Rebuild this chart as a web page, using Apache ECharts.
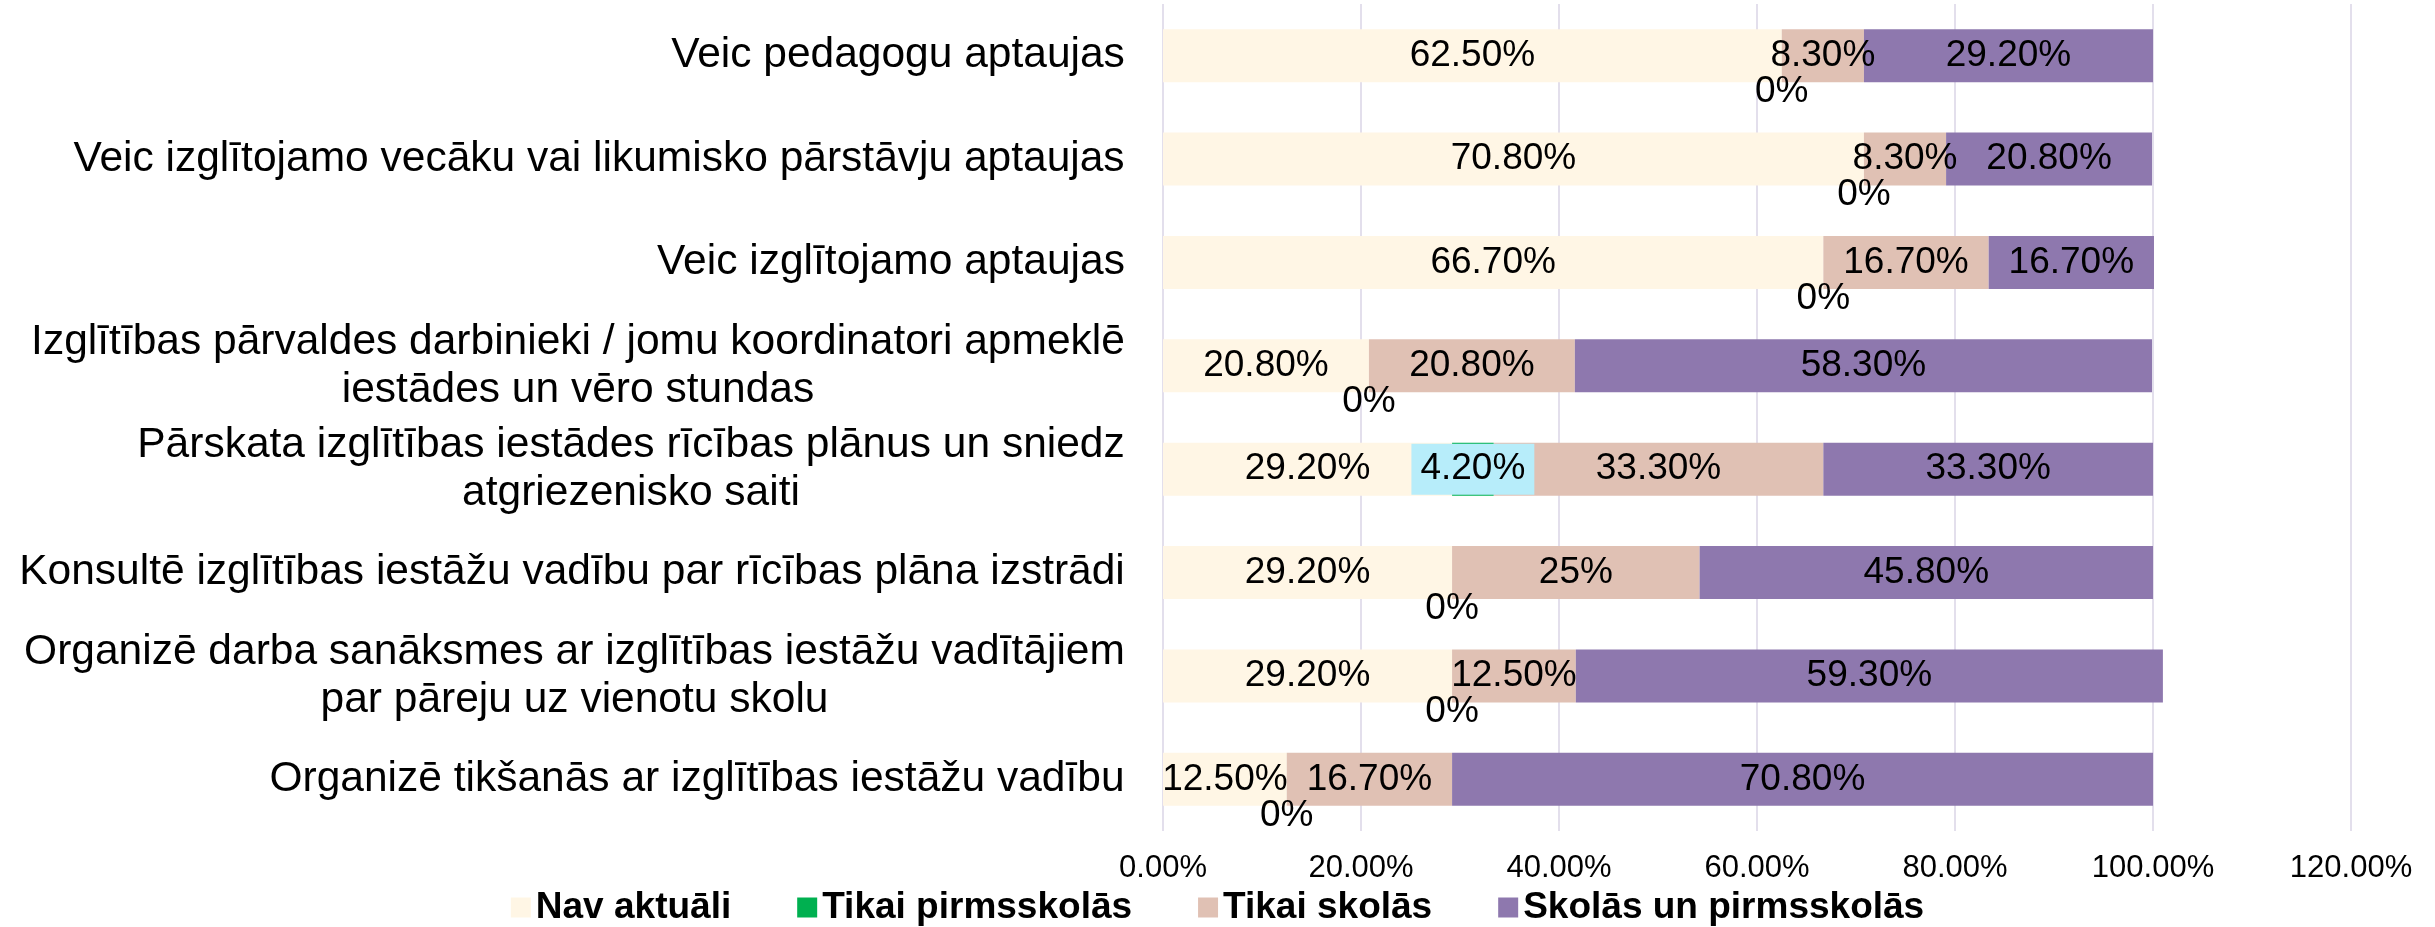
<!DOCTYPE html>
<html lang="lv">
<head>
<meta charset="UTF-8">
<title>Pašvaldību atbalsts</title>
<script src="https://cdn.jsdelivr.net/npm/echarts@6/dist/echarts.min.js"></script>
<style>html,body{margin:0;padding:0;background:#fff;}</style>
</head>
<body>
<div id="main" style="width:2435px;height:927px;"></div>
<script type="text/javascript">
// kategorijas no augšas uz leju
var categories = [
  'Veic pedagogu aptaujas',
  'Veic izglītojamo vecāku vai likumisko pārstāvju aptaujas',
  'Veic izglītojamo aptaujas',
  'Izglītības pārvaldes darbinieki / jomu koordinatori apmeklē\niestādes un vēro stundas',
  'Pārskata izglītības iestādes rīcības plānus un sniedz\natgriezenisko saiti',
  'Konsultē izglītības iestāžu vadību par rīcības plāna izstrādi',
  'Organizē darba sanāksmes ar izglītības iestāžu vadītājiem\npar pāreju uz vienotu skolu',
  'Organizē tikšanās ar izglītības iestāžu vadību'
];
var seriesNames = ['Nav aktuāli', 'Tikai pirmsskolās', 'Tikai skolās', 'Skolās un pirmsskolās'];
var navAktuali = [62.5, 70.8, 66.7, 20.8, 29.2, 29.2, 29.2, 12.5];
var tikaiPirmsskolas = [0, 0, 0, 0, 4.2, 0, 0, 0];
var tikaiSkolas = [8.3, 8.3, 16.7, 20.8, 33.3, 25, 12.5, 16.7];
var skolasUnPirmsskolas = [29.2, 20.8, 16.7, 58.3, 33.3, 45.8, 59.3, 70.8];
var colors = ['#FFF6E5', '#00B050', '#E0C1B4', '#8E78AE'];
var axisMin = 0, axisMax = 120, axisStep = 20;

var FONT = '"Liberation Sans", Arial, sans-serif';

function pct(v) {
  return (Math.round(v) === v ? v : v.toFixed(2)) + '%';
}

// daudzrindu etiķetes centrējam pēc garākās rindas
var ctx = document.createElement('canvas').getContext('2d');
ctx.font = '42.5px "Liberation Sans"';
var rich = {};
categories.forEach(function (c, i) {
  var w = 0;
  c.split('\n').forEach(function (l) { w = Math.max(w, ctx.measureText(l).width); });
  rich['r' + i] = { width: Math.ceil(w) + 2, align: 'center', fontSize: 42.5, fontFamily: FONT, color: '#000', lineHeight: 48 };
});

var dataLabel = {
  show: true,
  position: 'inside',
  color: '#000',
  fontSize: 37,
  fontFamily: FONT,
  formatter: function (p) { return pct(p.value); }
};

var greenData = tikaiPirmsskolas.map(function (v) {
  if (v === 0) return v;
  return {
    value: v,
    label: {
      position: 'inside',
      backgroundColor: '#B7EDFA',
      padding: [7, 9],
      lineHeight: 37
    }
  };
});

var chart = echarts.init(document.getElementById('main'));
var option = {
  animation: false,
  color: colors,
  grid: { left: 1163, right: 84, top: 4, bottom: 96 },
  legend: {
    top: 884,
    left: 'center',
    icon: 'rect',
    itemWidth: 20,
    itemHeight: 20,
    itemGap: 66,
    textStyle: { fontSize: 37, fontWeight: 'bold', color: '#000', fontFamily: FONT },
    data: seriesNames
  },
  xAxis: {
    type: 'value',
    min: axisMin,
    max: axisMax,
    interval: axisStep,
    axisLine: { show: false },
    axisTick: { show: false },
    splitLine: { lineStyle: { color: '#E3DFEC', width: 2 } },
    axisLabel: {
      margin: 22,
      fontSize: 31,
      color: '#000',
      fontFamily: FONT,
      formatter: function (v) { return v.toFixed(2) + '%'; }
    }
  },
  yAxis: {
    type: 'category',
    inverse: true,
    data: categories,
    axisLine: { show: false },
    axisTick: { show: false },
    axisLabel: {
      margin: 37,
      fontSize: 42.5,
      color: '#000',
      fontFamily: FONT,
      rich: rich,
      formatter: function (value, index) {
        return value.split('\n').map(function (l) { return '{r' + index + '|' + l + '}'; }).join('\n');
      }
    }
  },
  series: [
    { name: seriesNames[0], type: 'bar', stack: 'k', barWidth: 53, data: navAktuali, label: dataLabel },
    {
      name: seriesNames[1], type: 'bar', stack: 'k', barWidth: 53, data: greenData,
      label: {
        show: true, position: 'bottom', distance: -9, color: '#000', fontSize: 37, fontFamily: FONT,
        formatter: function (p) { return pct(p.value); }
      },
      z: 3
    },
    { name: seriesNames[2], type: 'bar', stack: 'k', barWidth: 53, data: tikaiSkolas, label: dataLabel },
    { name: seriesNames[3], type: 'bar', stack: 'k', barWidth: 53, data: skolasUnPirmsskolas, label: dataLabel }
  ]
};
chart.setOption(option);
</script>
</body>
</html>
